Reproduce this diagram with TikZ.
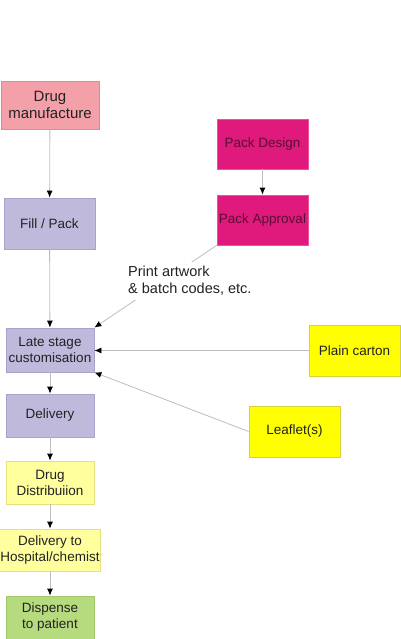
\documentclass[tikz,border=0pt]{standalone}
\usepackage{fontspec}
\setmainfont{Liberation Sans}
\usetikzlibrary{arrows.meta}
\definecolor{pinkf}{HTML}{F4A0A8}
\definecolor{pinkd}{HTML}{E08890}
\definecolor{lavf}{HTML}{BFB9DC}
\definecolor{lavd}{HTML}{A9A2CC}
\definecolor{magf}{HTML}{E0197D}
\definecolor{magd}{HTML}{F0509A}
\definecolor{magt}{HTML}{5A0E34}
\definecolor{ylf}{HTML}{FFFF9E}
\definecolor{yld}{HTML}{E6E080}
\definecolor{yf}{HTML}{FFFF00}
\definecolor{yd}{HTML}{D8D040}
\definecolor{grf}{HTML}{B6DA7E}
\definecolor{grd}{HTML}{A2C66A}
\definecolor{linec}{HTML}{BDBDBD}
\definecolor{txt}{HTML}{222222}
\tikzset{
  box/.style={rectangle, draw, line width=0.8pt, minimum width=88pt, minimum height=43pt,
    inner sep=1pt, align=center, font=\fontsize{13.5}{16}\selectfont, text=txt},
  conn/.style={draw=linec, line width=0.8pt, -{Latex[black,length=7pt,width=6pt]}}
}
\begin{document}
\begin{tikzpicture}[x=1pt,y=-1pt]
\useasboundingbox (0,0) rectangle (400,639);
\node[box, fill=pinkf, draw=pinkd, minimum width=98pt, minimum height=48pt, font=\fontsize{15}{17.5}\selectfont] (dm) at (50,105) {Drug\\manufacture};
\node[box, fill=lavf, draw=lavd, minimum width=91pt, minimum height=51pt] (fp) at (49.5,223.5) {Fill / Pack};
\node[box, fill=lavf, draw=lavd, minimum height=44pt] (ls) at (50,350) {Late stage\\customisation};
\node[box, fill=lavf, draw=lavd] (dl) at (50,415.5) {Delivery};
\node[box, fill=ylf, draw=yld] (dd) at (50,482.5) {Drug\\Distribuiion};
\node[box, fill=ylf, draw=yld, minimum height=42pt] (dh) at (50,550) {Delivery to\\Hospital/chemist};
\node[box, fill=grf, draw=grd] (dp) at (50,617.5) {Dispense\\to patient};
\node[box, fill=magf, draw=magd, text=magt, minimum width=91pt, minimum height=50pt] (pd) at (262.5,144) {Pack Design};
\node[box, fill=magf, draw=magd, text=magt, minimum width=91pt, minimum height=50pt] (pa) at (262.5,220) {Pack Approval};
\node[box, fill=yf, draw=yd, minimum width=91pt, minimum height=51pt] (pc) at (354.5,350.5) {Plain carton};
\node[box, fill=yf, draw=yd, minimum width=91pt, minimum height=51pt] (lf) at (294.5,431.5) {Leaflet(s)};
\draw[conn] (dm) -- (fp);
\draw[conn] (fp) -- (ls);
\draw[conn] (ls) -- (dl);
\draw[conn] (dl) -- (dd);
\draw[conn] (dd) -- (dh);
\draw[conn] (dh) -- (dp);
\draw[conn] (pd) -- (pa);
\draw[conn] (pa.south west) -- (ls.north east);
\draw[conn] (pc.west) -- (ls.east |- pc.west);
\draw[conn] (lf.west) -- (ls.south east);
\node[anchor=north west, align=left, fill=white, inner xsep=3pt, inner ysep=4pt, text=txt, font=\fontsize{14.5}{17}\selectfont] (lab) at (125,262) {Print artwork\\\& batch codes, etc.};
\end{tikzpicture}
\end{document}
